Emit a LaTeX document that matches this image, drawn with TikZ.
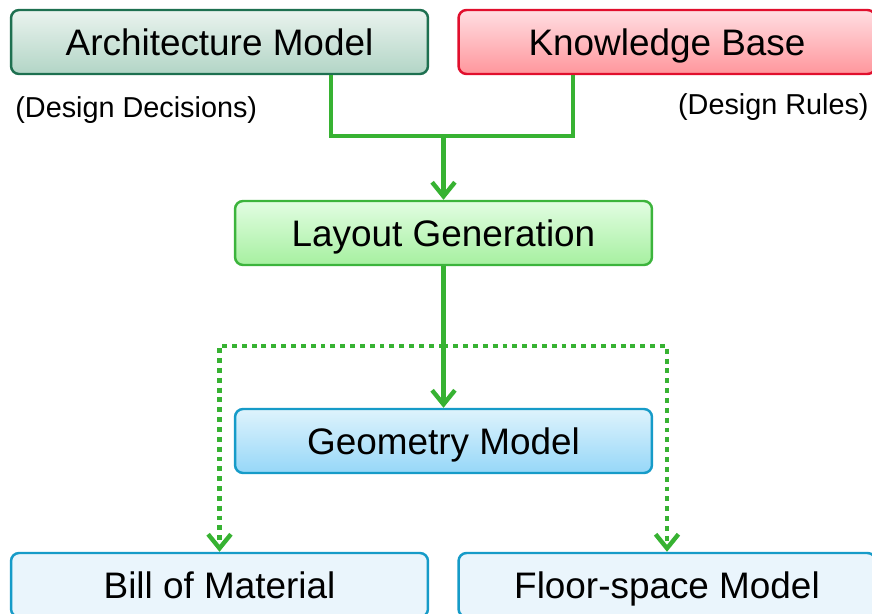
\documentclass[tikz,border=0pt]{standalone}
\usepackage{fontspec}
\setmainfont{Liberation Sans}
\usepackage{xcolor}
\usetikzlibrary{arrows.meta}

\definecolor{archline}{RGB}{30,112,80}
\definecolor{archtop}{RGB}{234,243,238}
\definecolor{archbot}{RGB}{178,213,198}
\definecolor{kbline}{RGB}{225,15,45}
\definecolor{kbtop}{RGB}{255,222,226}
\definecolor{kbbot}{RGB}{255,150,156}
\definecolor{layline}{RGB}{60,180,60}
\definecolor{laytop}{RGB}{226,253,226}
\definecolor{laybot}{RGB}{166,240,160}
\definecolor{geoline}{RGB}{22,155,200}
\definecolor{geotop}{RGB}{222,243,252}
\definecolor{geobot}{RGB}{150,215,248}
\definecolor{outfill}{RGB}{234,245,252}
\definecolor{flowgreen}{RGB}{55,178,50}

\begin{document}
\begin{tikzpicture}[
    x=0.02cm, y=-0.02cm,
    box/.style={rounded corners=0.16cm, line width=1.4pt, minimum width=8.34cm,
        minimum height=1.28cm, inner sep=0pt, text height=15pt, text depth=0pt,
        font=\fontsize{21}{25}\selectfont},
    note/.style={inner sep=0pt, font=\fontsize{16.4}{20}\selectfont},
    flow/.style={draw=flowgreen, line width=2.5pt},
    tip/.style={-{Straight Barb[length=8pt,width=13pt,line width=2.5pt]}},
    dots/.style={draw=flowgreen, line width=2.7pt, dash pattern=on 2.8pt off 2.8pt}
]
\useasboundingbox (0,0) rectangle (872,613);
\node[box, draw=archline, top color=archtop, bottom color=archbot] (arch) at (219.5, 42) {Architecture Model};
\node[box, draw=kbline, top color=kbtop, bottom color=kbbot] (kb) at (667, 42) {Knowledge Base};
\node[note, anchor=west] (dec) at (15, 110) {(Design Decisions)};
\node[note, anchor=east] (rules) at (869, 107) {(Design Rules)};
\node[box, draw=layline, top color=laytop, bottom color=laybot] (layout) at (443.5, 233) {Layout Generation};
\node[box, draw=geoline, top color=geotop, bottom color=geobot] (geom) at (443.5, 441) {Geometry Model};
\node[box, draw=geoline, fill=outfill] (bom) at (219.5, 585) {Bill of Material};
\node[box, draw=geoline, fill=outfill] (floor) at (667, 585) {Floor-space Model};
\coordinate (join) at (443.5, 136);
\coordinate (split) at (443.5, 346);
% inputs
\draw[flow] ([xshift=2.23cm]arch.south) |- (join) -| ([xshift=-1.88cm]kb.south);
\draw[flow, tip] (join) -- (layout);
\draw[flow, tip] (layout) -- (geom);
% outputs
\draw[dots, tip] (split) -| (bom);
\draw[dots, tip] (split) -| (floor);
\end{tikzpicture}
\end{document}
